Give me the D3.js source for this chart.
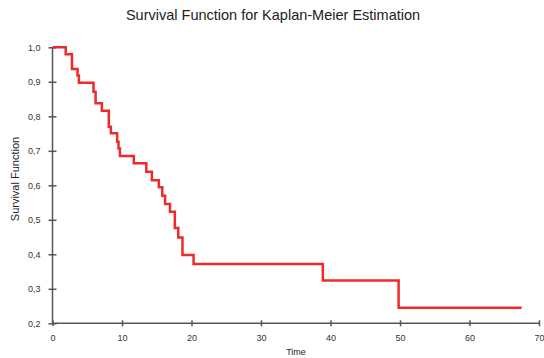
<!DOCTYPE html>
<html>
<head>
<meta charset="utf-8">
<script src="https://cdn.jsdelivr.net/npm/d3@7"></script>
<style>
  body { margin: 0; background: #fff; }
  svg { font-family: "Liberation Sans", Arial, sans-serif; }
  .axis path, .axis line { stroke: #555; stroke-width: 1.5px; }
  .axis text { fill: #333; font-size: 9px; }
</style>
</head>
<body>
<svg id="chart" width="544" height="358"></svg>
<script>
// event times and the survival value right after each step
var times = [0, 1.9, 2.8, 3.6, 3.8, 5.9, 6.2, 7.1, 8.1, 8.4, 9.3, 9.5, 9.7, 11.7,
             13.5, 14.3, 15.3, 15.8, 16.2, 16.9, 17.6, 18.1, 18.7, 20.3, 38.9, 49.8, 67.5]
var survival = [1.0, 0.980, 0.937, 0.918, 0.897, 0.871, 0.838, 0.816, 0.770, 0.751,
                0.726, 0.707, 0.685, 0.664, 0.639, 0.615, 0.594, 0.570, 0.546, 0.523,
                0.476, 0.449, 0.398, 0.372, 0.324, 0.245, 0.245]
var xTicks = [0, 10, 20, 30, 40, 50, 60, 70]
var yTicks = [0.2, 0.3, 0.4, 0.5, 0.6, 0.7, 0.8, 0.9, 1.0]

var svg = d3.select('#chart')

var x = d3.scaleLinear().domain([0, 70]).range([52.5, 539])
var y = d3.scaleLinear().domain([0.2, 1.0]).range([323.3, 47.3])

var fmt = function(d) { return d3.format('.1f')(d).replace('.', ',') }

// y axis
var yAxis = svg.append('g')
  .attr('class', 'axis')
  .attr('transform', 'translate(' + x(0) + ',0)')
  .call(d3.axisLeft(y).tickValues(yTicks).tickFormat(fmt).tickSize(4).tickPadding(8))
yAxis.selectAll('.tick line').attr('x1', 4)
yAxis.select('.domain').attr('d', 'M0,' + y(0.2) + 'V' + y(1.0))

// x axis
var xAxis = svg.append('g')
  .attr('class', 'axis')
  .attr('transform', 'translate(0,' + y(0.2) + ')')
  .call(d3.axisBottom(x).tickValues(xTicks).tickSize(3).tickPadding(8))
xAxis.selectAll('.tick line').attr('y1', -3)
xAxis.select('.domain').attr('d', 'M' + x(0) + ',0H' + x(70))

// survival curve
var line = d3.line()
  .x(function(d, i) { return x(times[i]) })
  .y(function(d) { return y(d) })
  .curve(d3.curveStepAfter)

svg.append('path')
  .datum(survival)
  .attr('d', line)
  .attr('fill', 'none')
  .attr('stroke', '#ee2a2a')
  .attr('stroke-width', 2.5)

// titles
svg.append('text')
  .attr('x', 273).attr('y', 20)
  .attr('text-anchor', 'middle')
  .attr('font-size', '14.5px')
  .attr('fill', '#222')
  .text('Survival Function for Kaplan-Meier Estimation')

svg.append('text')
  .attr('x', 296).attr('y', 355)
  .attr('text-anchor', 'middle')
  .attr('font-size', '9px')
  .attr('fill', '#222')
  .text('Time')

svg.append('text')
  .attr('transform', 'translate(19,179) rotate(-90)')
  .attr('text-anchor', 'middle')
  .attr('font-size', '11px')
  .attr('fill', '#222')
  .text('Survival Function')
</script>
</body>
</html>
